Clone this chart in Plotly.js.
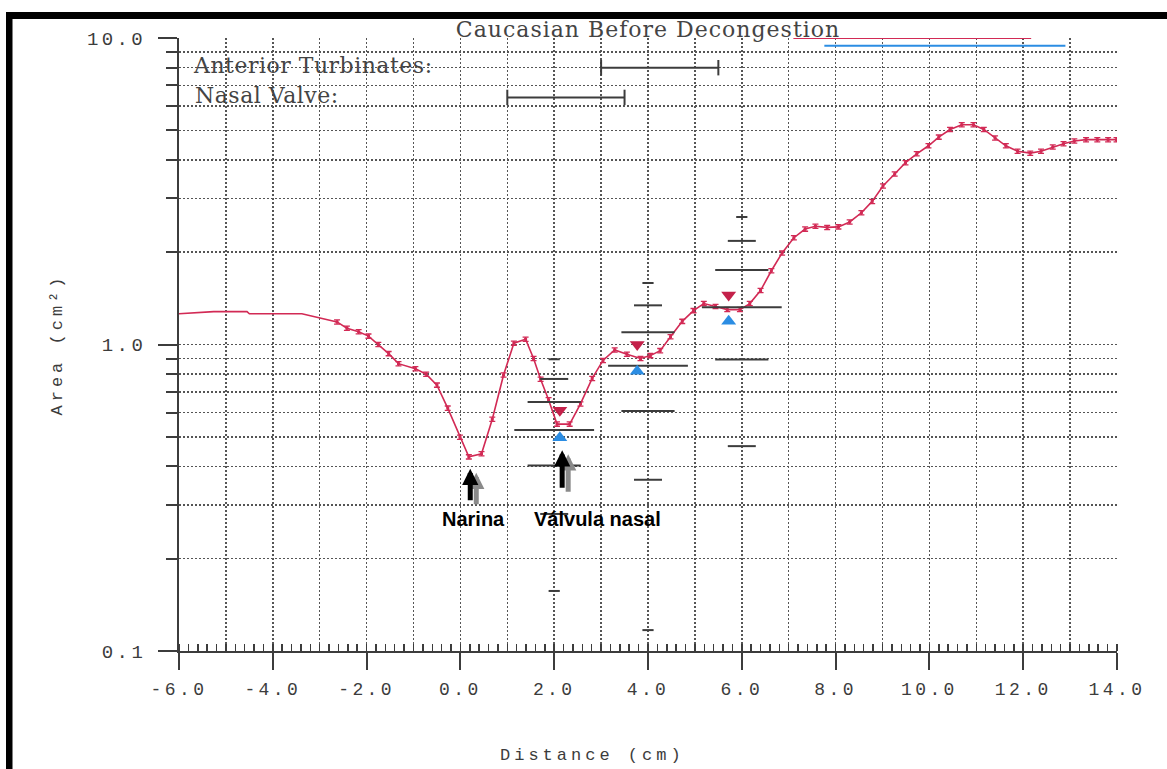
<!DOCTYPE html>
<html>
<head>
<meta charset="utf-8">
<script src="https://cdn.plot.ly/plotly-3.0.1.min.js"></script>
<style>
  html, body { margin: 0; padding: 0; background: #ffffff; }
  #chart { width: 1167px; height: 769px; }
  g.xtick text, g.ytick text { letter-spacing: 3.4px; }
  text.ytitle { letter-spacing: 4px; }
  text.gtitle { letter-spacing: 1px; }
  g.annotation[data-index="0"] text, g.annotation[data-index="1"] text { letter-spacing: 0.5px; }
  g.annotation[data-index="6"] text { letter-spacing: 4px; }
</style>
</head>
<body>
<div id="chart"></div>
<script>
// ---------- data ----------
const distance = [-6.0, -5.26, -4.55, -4.5, -3.38, -2.98, -2.63, -2.42, -2.17, -1.96, -1.75, -1.53, -1.32,
  -0.96, -0.73, -0.5, -0.27, -0.01, 0.18, 0.45, 0.68, 0.92, 1.14, 1.39, 1.56, 1.71, 1.88, 2.06, 2.33,
  2.56, 2.81, 3.04, 3.29, 3.55, 3.84, 4.05, 4.26, 4.48, 4.73, 4.97, 5.19, 5.44, 5.69, 5.96, 6.17, 6.40,
  6.63, 6.86, 7.11, 7.35, 7.57, 7.82, 8.06, 8.30, 8.55, 8.78, 9.01, 9.26, 9.49, 9.73, 9.98, 10.2, 10.44,
  10.69, 10.94, 11.16, 11.4, 11.63, 11.88, 12.15, 12.38, 12.63, 12.86, 13.09, 13.34, 13.58, 13.81, 13.99];
const area = [1.26, 1.28, 1.28, 1.26, 1.26, 1.22, 1.185, 1.13, 1.10, 1.065, 1.00, 0.934, 0.866,
  0.834, 0.80, 0.737, 0.62, 0.498, 0.43, 0.44, 0.57, 0.795, 1.01, 1.04, 0.90, 0.77, 0.66, 0.55, 0.55,
  0.64, 0.775, 0.887, 0.96, 0.93, 0.90, 0.92, 0.955, 1.06, 1.19, 1.29, 1.36, 1.33, 1.30, 1.30, 1.36, 1.50,
  1.74, 1.99, 2.23, 2.38, 2.43, 2.41, 2.42, 2.51, 2.69, 2.93, 3.29, 3.60, 3.92, 4.19, 4.45, 4.75, 5.03,
  5.21, 5.21, 5.03, 4.72, 4.45, 4.27, 4.21, 4.27, 4.41, 4.52, 4.61, 4.66, 4.66, 4.66, 4.66];
const areaErrPct = 1.6;        // small error bars on the measured curve (%)

// normative data (mean and standard deviation) at three distances
const normX = [2, 4, 6];
const normMean = [0.526, 0.852, 1.322];
const normSD = [0.123, 0.245, 0.428];

// triangle markers
const triX = [2.12, 3.77, 5.72];
const redTriY = [0.61, 1.00, 1.45];
const blueTriY = [0.496, 0.818, 1.19];

// range indicators (top left)
const rangeLabels = ['Anterior Turbinates:', 'Nasal Valve:'];
const turbRange = [3.0, 5.5];
const turbLevel = 8.0;
const valveRange = [1.0, 3.5];
const valveLevel = 6.4;

// coloured reference lines (top right)
const redRefX = [7.1, 12.17];
const redRefY = 10.0;
const blueRefX = [7.76, 12.9];
const blueRefY = 9.44;

// landmarks
const landmarkLabels = ['Narina', 'Válvula nasal'];
const landmarkX = [0.21, 2.17];
const landmarkY = [0.393, 0.452];
const landmarkLabelX = [0.28, 2.93];
const landmarkLabelY = 0.27;

// axis ticks
const xTickVals = [-6, -4, -2, 0, 2, 4, 6, 8, 10, 12, 14];
const xTickText = ['-6.0', '-4.0', '-2.0', '0.0', '2.0', '4.0', '6.0', '8.0', '10.0', '12.0', '14.0'];
const yTickVals = [0.1, 1, 10];
const yTickText = ['0.1', '1.0', '10.0'];
const yMinorVals = [0.2, 0.3, 0.4, 0.5, 0.6, 0.7, 0.8, 0.9, 2, 3, 4, 5, 6, 7, 8, 9];

// ---------- styles ----------
const RED = '#d22a55';
const TRI_RED = '#c4214a';
const BLUE = '#2b8de3';
const INK = '#3c3c3c';
const GRID = '#555555';
const MONO = 'Liberation Mono, DejaVu Sans Mono, monospace';
const SERIF = 'DejaVu Serif, Liberation Serif, serif';
const SANS = 'Liberation Sans, Arial, sans-serif';

const traces = [];

// measured curve: line
traces.push({
  x: distance, y: area, type: 'scatter', mode: 'lines',
  line: {color: RED, width: 1.6}, hoverinfo: 'x+y', showlegend: false
});
// measured curve: markers with small error bars (from the narrowing region on)
const mkX = distance.filter(d => d > -2.8);
const mkY = area.filter((a, i) => distance[i] > -2.8);
traces.push({
  x: mkX, y: mkY, type: 'scatter', mode: 'markers',
  marker: {symbol: 'square', size: 3, color: RED},
  error_y: {type: 'percent', value: areaErrPct, color: RED, thickness: 1.3, width: 3},
  showlegend: false
});

// normative bars: mean, ±1, ±2, ±3 SD
const barWidths = [57, 38, 20, 8];
[0, 1, 2, 3].forEach(k => {
  const xs = [], ys = [];
  normX.forEach((x, i) => {
    const lv = k === 0 ? [normMean[i]] : [normMean[i] + k * normSD[i], normMean[i] - k * normSD[i]];
    lv.forEach(v => { if (v > 0.1) { xs.push(x); ys.push(v); } });
  });
  traces.push({
    x: xs, y: ys, type: 'scatter', mode: 'markers', showlegend: false,
    marker: {symbol: 'line-ew', size: barWidths[k], color: INK, line: {color: INK, width: 2}}
  });
});

// triangles
traces.push({
  x: triX, y: redTriY, type: 'scatter', mode: 'markers', showlegend: false,
  marker: {symbol: 'triangle-down', size: 13, color: TRI_RED}
});
traces.push({
  x: triX, y: blueTriY, type: 'scatter', mode: 'markers', showlegend: false,
  marker: {symbol: 'triangle-up', size: 13, color: BLUE}
});

// range indicators
[[turbRange, turbLevel], [valveRange, valveLevel]].forEach(([r, lvl]) => {
  traces.push({
    x: r, y: [lvl, lvl], type: 'scatter', mode: 'lines+markers', showlegend: false,
    line: {color: INK, width: 2},
    marker: {symbol: 'line-ns', size: 11, color: INK, line: {color: INK, width: 2}},
    cliponaxis: false
  });
});

// coloured reference lines at the top (on the overlay axis)
traces.push({
  x: redRefX, y: [redRefY, redRefY], xaxis: 'x2', type: 'scatter', mode: 'lines',
  line: {color: RED, width: 2}, showlegend: false, cliponaxis: false
});
traces.push({
  x: blueRefX, y: [blueRefY, blueRefY], xaxis: 'x2', type: 'scatter', mode: 'lines',
  line: {color: BLUE, width: 2}, showlegend: false, cliponaxis: false
});

// ---------- annotations ----------
const annotations = [];
// range labels (0,1)
annotations.push({x: -5.63, y: Math.log10(turbLevel), xref: 'x', yref: 'y', text: rangeLabels[0], yshift: 2,
  showarrow: false, xanchor: 'left', yanchor: 'middle', font: {family: SERIF, size: 22, color: '#444'}});
annotations.push({x: -5.63, y: Math.log10(valveLevel), xref: 'x', yref: 'y', text: rangeLabels[1], yshift: 2,
  showarrow: false, xanchor: 'left', yanchor: 'middle', font: {family: SERIF, size: 22, color: '#444'}});
// landmark arrows: shadow then black (2..5)
const arrowLen = [33, 39];
landmarkX.forEach((x, i) => {
  annotations.push({x: x, y: Math.log10(landmarkY[i]), xref: 'x', yref: 'y', text: '',
    showarrow: true, ax: 0, ay: arrowLen[i], arrowhead: 2, arrowsize: 0.65, arrowwidth: 5,
    arrowcolor: '#8a8a8a', xshift: 6, yshift: -4});
  annotations.push({x: x, y: Math.log10(landmarkY[i]), xref: 'x', yref: 'y', text: '',
    showarrow: true, ax: 0, ay: arrowLen[i], arrowhead: 2, arrowsize: 0.65, arrowwidth: 5,
    arrowcolor: '#000000'});
});
// x-axis title (6)
annotations.push({x: 0.441, y: -0.17, xref: 'paper', yref: 'paper', text: 'Distance (cm)',
  showarrow: false, xanchor: 'center', yanchor: 'middle', font: {family: MONO, size: 17, color: INK}});
// landmark labels (7,8)
landmarkLabels.forEach((t, i) => {
  annotations.push({x: landmarkLabelX[i], y: Math.log10(landmarkLabelY), xref: 'x', yref: 'y', text: '<b>' + t + '</b>',
    showarrow: false, xanchor: 'center', yanchor: 'middle', font: {family: SANS, size: 20, color: '#000'}});
});

// ---------- frame of the scanned figure ----------
const pxX = p => (p - 179) / 938;
const pxY = p => (651 - p) / 613;
const shapes = [
  {type: 'rect', xref: 'paper', yref: 'paper', x0: pxX(6), x1: pxX(12.5), y0: pxY(769), y1: pxY(12),
    fillcolor: '#000', line: {width: 0}, layer: 'above'},
  {type: 'rect', xref: 'paper', yref: 'paper', x0: pxX(6), x1: pxX(1167), y0: pxY(19), y1: pxY(12),
    fillcolor: '#000', line: {width: 0}, layer: 'above'}
];

const layout = {
  width: 1167, height: 769,
  margin: {l: 179, r: 50, t: 38, b: 118},
  paper_bgcolor: '#ffffff', plot_bgcolor: '#ffffff',
  showlegend: false,
  title: {text: 'Caucasian Before Decongestion', x: 0.5, xref: 'paper', xanchor: 'center',
    y: 1 - 29 / 769, yref: 'container', yanchor: 'middle',
    font: {family: SERIF, size: 22, color: '#444'}},
  xaxis: {
    range: [-6, 14], tickmode: 'array', tickvals: xTickVals, ticktext: xTickText,
    ticks: 'outside', ticklen: 17, tickwidth: 2, tickcolor: INK,
    showline: true, linecolor: INK, linewidth: 2,
    showgrid: false, zeroline: false,
    ticklabelstandoff: 3,
    tickfont: {family: MONO, size: 18, color: INK},
    minor: {dtick: 0.2, tick0: -6, ticks: 'inside', ticklen: 7, tickwidth: 1.5, tickcolor: INK, showgrid: false}
  },
  xaxis2: {
    overlaying: 'x', anchor: 'y', range: [-6, 14], tickmode: 'linear', tick0: -6, dtick: 1,
    showticklabels: false, ticks: '', showline: false, zeroline: false,
    showgrid: true, gridcolor: GRID, griddash: '2px,2px', gridwidth: 1.5
  },
  yaxis: {
    type: 'log', range: [-1, 1], tickmode: 'array', tickvals: yTickVals, ticktext: yTickText,
    ticks: 'outside', ticklen: 19, tickwidth: 2, tickcolor: INK,
    showline: true, linecolor: INK, linewidth: 2,
    showgrid: true, gridcolor: GRID, griddash: '2px,2px', gridwidth: 1.5, zeroline: false,
    ticklabelstandoff: 8,
    tickfont: {family: MONO, size: 19, color: INK},
    title: {text: 'Area (cm²)', font: {family: MONO, size: 17, color: INK}, standoff: 20},
    minor: {tickmode: 'array', tickvals: yMinorVals, ticks: 'outside', ticklen: 11, tickwidth: 2,
      tickcolor: INK, showgrid: true, gridcolor: GRID, griddash: '2px,2px', gridwidth: 1.5}
  },
  annotations: annotations,
  shapes: shapes
};

Plotly.newPlot('chart', traces, layout, {displayModeBar: false, staticPlot: true});
</script>
</body>
</html>
